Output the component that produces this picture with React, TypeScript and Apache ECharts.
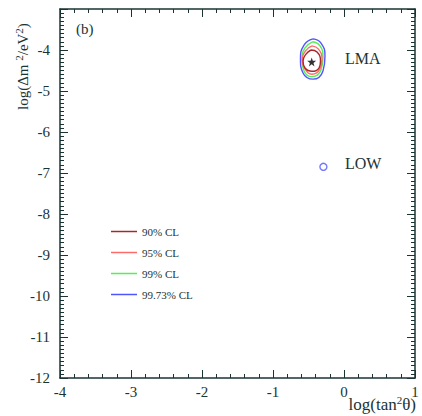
import React, { useEffect, useRef } from "react";
import * as echarts from "echarts";

// Contours around the LMA best fit point: [log(tan^2 theta), log(dm^2/eV^2)]
const cl90: [number, number][] = [
  [-0.465, -4.0], [-0.38, -4.05], [-0.331, -4.27], [-0.352, -4.44], [-0.451, -4.52],
  [-0.549, -4.44], [-0.577, -4.27], [-0.535, -4.1], [-0.465, -4.0],
];
const cl95: [number, number][] = [
  [-0.451, -3.9], [-0.359, -3.98], [-0.31, -4.22], [-0.338, -4.46], [-0.451, -4.59],
  [-0.549, -4.46], [-0.585, -4.24], [-0.542, -4.02], [-0.451, -3.9],
];
const cl99: [number, number][] = [
  [-0.444, -3.8], [-0.338, -3.9], [-0.296, -4.17], [-0.324, -4.49], [-0.451, -4.65],
  [-0.563, -4.51], [-0.592, -4.22], [-0.549, -3.95], [-0.444, -3.8],
];
const cl9973: [number, number][] = [
  [-0.437, -3.73], [-0.324, -3.83], [-0.268, -4.15], [-0.296, -4.51], [-0.437, -4.71],
  [-0.577, -4.56], [-0.613, -4.22], [-0.563, -3.88], [-0.437, -3.73],
];
const bestFit: [number, number][] = [[-0.455, -4.29]];
const lowRegion: [number, number][] = [[-0.29, -6.85]];

const seriesNames = ["90% CL", "95% CL", "99% CL", "99.73% CL"];
const seriesColors = ["#a82828", "#ff6a6a", "#55ee55", "#5055ff"];
const contours = [cl90, cl95, cl99, cl9973];

const xTicks = [-4, -3, -2, -1, 0, 1];
const yTicks = [-12, -11, -10, -9, -8, -7, -6, -5, -4];

const INK = "#1a3434";
const SERIF = "'Liberation Serif', 'DejaVu Serif', serif";

export default function App() {
  const ref = useRef<HTMLDivElement>(null);
  useEffect(() => {
    if (!ref.current) return;
    const chart = echarts.init(ref.current, undefined, { renderer: "svg" });
    const axisLine = { show: true, onZero: false, lineStyle: { color: INK, width: 1.5 } };
    const tick = { show: true, inside: true, length: 8, lineStyle: { color: INK } };
    chart.setOption({
      animation: false,
      backgroundColor: "#ffffff",
      grid: { left: 60, top: 9, width: 355, height: 369 },
      xAxis: [
        {
          type: "value", min: xTicks[0], max: xTicks[xTicks.length - 1], interval: 1,
          position: "bottom", axisLine, axisTick: tick, splitLine: { show: false },
          minorTick: { show: true, splitNumber: 5, length: 4, lineStyle: { color: INK } },
          axisLabel: { color: INK, fontFamily: SERIF, fontSize: 15, margin: 6 },
        },
        {
          type: "value", min: xTicks[0], max: xTicks[xTicks.length - 1], interval: 1,
          position: "top", axisLine, axisTick: tick, splitLine: { show: false },
          minorTick: { show: true, splitNumber: 5, length: 4, lineStyle: { color: INK } },
          axisLabel: { show: false },
        },
      ],
      yAxis: [
        {
          type: "value", min: yTicks[0], max: -3, interval: 1,
          position: "left", axisLine, axisTick: tick, splitLine: { show: false },
          minorTick: { show: true, splitNumber: 10, length: 4, lineStyle: { color: INK } },
          axisLabel: {
            color: INK, fontFamily: SERIF, fontSize: 15, margin: 10,
            formatter: (v: number) => (yTicks.includes(v) ? String(v) : ""),
          },
        },
        {
          type: "value", min: yTicks[0], max: -3, interval: 1,
          position: "right", axisLine, axisTick: tick, splitLine: { show: false },
          minorTick: { show: true, splitNumber: 10, length: 4, lineStyle: { color: INK } },
          axisLabel: { show: false },
        },
      ],
      legend: {
        orient: "vertical",
        left: 106,
        top: 221,
        icon: "rect",
        itemWidth: 26,
        itemHeight: 1.5,
        itemGap: 10,
        data: seriesNames,
        textStyle: { color: INK, fontFamily: SERIF, fontSize: 11 },
      },
      series: [
        ...contours.map((c, i) => ({
          name: seriesNames[i],
          type: "line",
          data: c,
          smooth: 0.5,
          symbol: "none",
          lineStyle: { color: seriesColors[i], width: 1.4 },
          itemStyle: { color: seriesColors[i] },
          z: 10 - i,
        })),
        {
          type: "scatter",
          data: bestFit,
          symbol: "path://M0,-10 L2.35,-3.24 L9.51,-3.09 L3.8,1.24 L5.88,8.09 L0,4 L-5.88,8.09 L-3.8,1.24 L-9.51,-3.09 L-2.35,-3.24 Z",
          symbolSize: 9,
          itemStyle: { color: "#000" },
          z: 20,
        },
        {
          type: "scatter",
          data: lowRegion,
          symbol: "circle",
          symbolSize: 7,
          itemStyle: { color: "transparent", borderColor: "#5055ff", borderWidth: 1.4 },
          z: 20,
        },
      ],
      graphic: [
        {
          type: "text", left: 76, top: 21,
          style: { text: "(b)", fill: INK, font: `15px ${SERIF}` },
        },
        {
          type: "text", left: 345, top: 50,
          style: { text: "LMA", fill: INK, font: `16px ${SERIF}` },
        },
        {
          type: "text", left: 345, top: 155,
          style: { text: "LOW", fill: INK, font: `16px ${SERIF}` },
        },
        {
          type: "text", right: 6, top: 394,
          style: {
            text: "log(tan{sup|2}θ)",
            fill: INK,
            font: `17px ${SERIF}`,
            rich: { sup: { fontSize: 11, fontFamily: SERIF, fill: INK, padding: [0, 0, 9, 0] } },
          },
        },
        {
          type: "text", x: 13, y: 110, rotation: Math.PI / 2,
          style: {
            text: "log(Δm {sup|2}/eV{sup|2})",
            fill: INK,
            font: `15px ${SERIF}`,
            rich: { sup: { fontSize: 11, fontFamily: SERIF, fill: INK, padding: [0, 0, 8, 0] } },
          },
        },
      ],
    });
    return () => chart.dispose();
  }, []);
  return (
    <div
      ref={ref}
      style={{ position: "fixed", left: 0, top: 0, width: 422, height: 416 }}
    />
  );
}
